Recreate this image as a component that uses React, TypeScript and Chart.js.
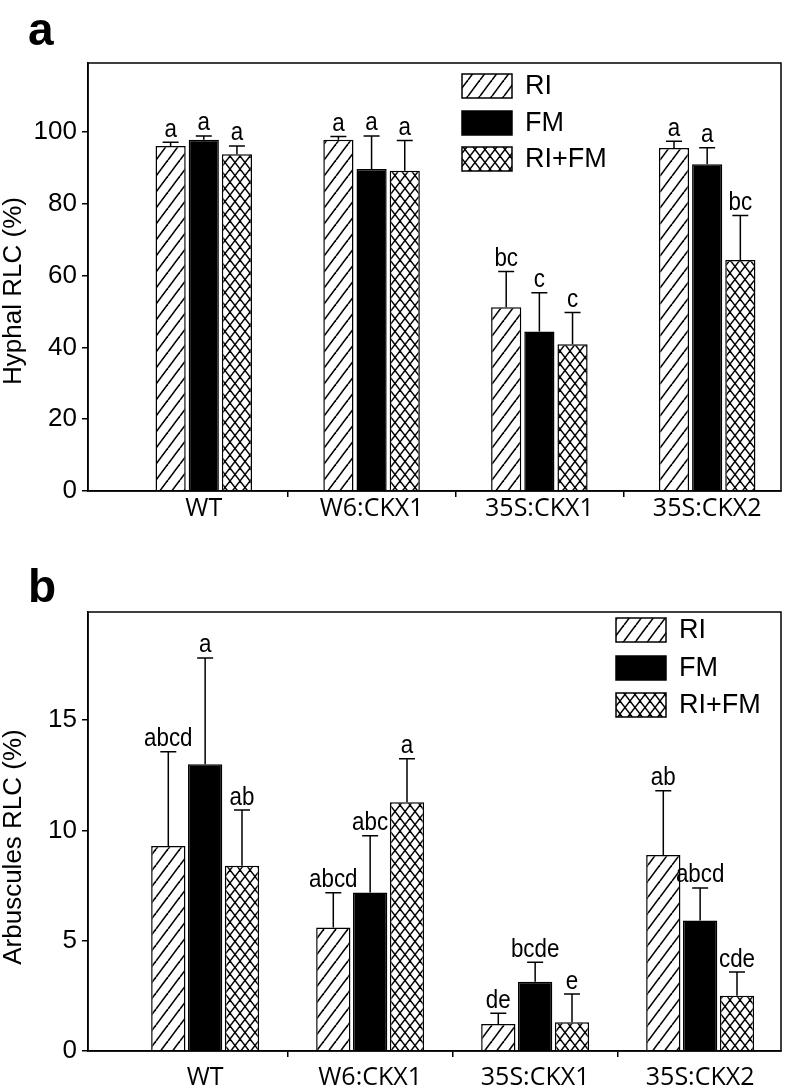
import React, { useEffect, useRef } from 'react';
import { Chart, registerables } from 'chart.js';

Chart.register(...registerables);

const categories = ['WT', 'W6:CKX1', '35S:CKX1', '35S:CKX2'];
const seriesNames = ['RI', 'FM', 'RI+FM'];

// Panel a: Hyphal RLC (%)
const hyphalRI = [96.1, 97.8, 51.2, 95.5];
const hyphalFM = [97.8, 89.7, 44.4, 91.0];
const hyphalRIFM = [93.8, 89.2, 40.9, 64.3];
const hyphalErrRI = [1.0, 0.9, 9.9, 1.9];
const hyphalErrFM = [1.1, 9.2, 10.8, 4.6];
const hyphalErrRIFM = [2.3, 8.4, 8.8, 12.4];
const hyphalLetRI = ['a', 'a', 'bc', 'a'];
const hyphalLetFM = ['a', 'a', 'c', 'a'];
const hyphalLetRIFM = ['a', 'a', 'c', 'bc'];

// Panel b: Arbuscules RLC (%)
const arbRI = [9.29, 5.6, 1.22, 8.88];
const arbFM = [13.0, 7.19, 3.14, 5.92];
const arbRIFM = [8.4, 11.28, 1.3, 2.51];
const arbErrRI = [4.27, 1.57, 0.49, 2.92];
const arbErrFM = [4.82, 2.57, 0.88, 1.47];
const arbErrRIFM = [2.52, 1.97, 1.28, 1.07];
const arbLetRI = ['abcd', 'abcd', 'de', 'ab'];
const arbLetFM = ['a', 'abc', 'bcde', 'abcd'];
const arbLetRIFM = ['ab', 'a', 'e', 'cde'];

const SANS = '"Liberation Sans", Arial, sans-serif';
const XFONT = '"Open Sans", "Liberation Sans", sans-serif';

function makeHatch(): CanvasPattern {
  const w = 12, h = 16;
  const c = document.createElement('canvas');
  c.width = w; c.height = h;
  const g = c.getContext('2d')!;
  g.fillStyle = '#fff'; g.fillRect(0, 0, w, h);
  g.strokeStyle = '#000'; g.lineWidth = 1.6;
  for (const dx of [-w, 0, w]) {
    g.beginPath(); g.moveTo(dx, h); g.lineTo(dx + w, 0); g.stroke();
  }
  return g.createPattern(c, 'repeat')!;
}

function makeCross(): CanvasPattern {
  const w = 10, h = 13;
  const c = document.createElement('canvas');
  c.width = w; c.height = h;
  const g = c.getContext('2d')!;
  g.fillStyle = '#fff'; g.fillRect(0, 0, w, h);
  g.strokeStyle = '#000'; g.lineWidth = 1.4;
  for (const dx of [-w, 0, w]) {
    for (const dy of [-h, 0, h]) {
      g.beginPath(); g.moveTo(dx, dy); g.lineTo(dx + w, dy + h); g.stroke();
      g.beginPath(); g.moveTo(dx + w, dy); g.lineTo(dx, dy + h); g.stroke();
    }
  }
  return g.createPattern(c, 'repeat')!;
}

type PanelCfg = {
  label: string;
  yTitle: string;
  values: number[][];
  errors: number[][];
  letters: string[][];
  yMax: number;
  yStep: number;
  xMin: number;
  xMax: number;
  padTop: number;
  xAxisHeight: number;
  xTickPadding: number;
  catPct: number;
  barPct: number;
  legendX: number;
  legendY: number[];
  labelY: number;
  titleY: number;
};

function Panel({ cfg, top, height }: { cfg: PanelCfg; top: number; height: number }) {
  const ref = useRef<HTMLCanvasElement>(null);
  useEffect(() => {
    const hatch = makeHatch();
    const cross = makeCross();
    const fills: any[] = [hatch, '#000', cross];

    const overlay = {
      id: 'overlay',
      afterDatasetsDraw(chart: any) {
        const ctx = chart.ctx;
        const yS = chart.scales.y;
        chart.data.datasets.forEach((_ds: any, di: number) => {
          const meta = chart.getDatasetMeta(di);
          meta.data.forEach((el: any, j: number) => {
            const v = cfg.values[di][j];
            const e = cfg.errors[di][j];
            const yTop = yS.getPixelForValue(v + e);
            ctx.save();
            ctx.strokeStyle = '#000';
            ctx.lineWidth = 1.5;
            ctx.beginPath();
            ctx.moveTo(el.x, el.y);
            ctx.lineTo(el.x, yTop);
            ctx.moveTo(el.x - 8, yTop);
            ctx.lineTo(el.x + 8, yTop);
            ctx.stroke();
            ctx.translate(el.x, yTop - 5.5);
            ctx.scale(0.86, 1);
            ctx.font = '26px ' + SANS;
            ctx.textAlign = 'center';
            ctx.textBaseline = 'alphabetic';
            ctx.fillStyle = '#000';
            ctx.fillText(cfg.letters[di][j], 0, 0);
            ctx.restore();
          });
        });
      },
      afterDraw(chart: any) {
        const ctx = chart.ctx;
        const a = chart.chartArea;
        ctx.save();
        // frame
        ctx.strokeStyle = '#000';
        ctx.lineWidth = 1.5;
        ctx.strokeRect(a.left, a.top, a.right - a.left, a.bottom - a.top);
        // legend
        seriesNames.forEach((name, i) => {
          const y = cfg.legendY[i];
          ctx.fillStyle = fills[i];
          ctx.fillRect(cfg.legendX, y, 50, 24);
          ctx.lineWidth = 1.5;
          ctx.strokeStyle = '#000';
          ctx.strokeRect(cfg.legendX, y, 50, 24);
          ctx.fillStyle = '#000';
          ctx.font = '27px ' + SANS;
          ctx.textAlign = 'left';
          ctx.textBaseline = 'middle';
          ctx.fillText(name, cfg.legendX + 63, y + 13);
        });
        // y title
        ctx.translate(14, cfg.titleY);
        ctx.rotate(-Math.PI / 2);
        ctx.font = '26px ' + SANS;
        ctx.textAlign = 'center';
        ctx.textBaseline = 'middle';
        ctx.fillText(cfg.yTitle, 0, 0);
        ctx.setTransform(1, 0, 0, 1, 0, 0);
        // panel label
        ctx.font = 'bold 46px ' + SANS;
        ctx.textAlign = 'left';
        ctx.textBaseline = 'alphabetic';
        ctx.fillText(cfg.label, 28, cfg.labelY);
        ctx.restore();
      },
    };

    const chart = new Chart(ref.current!, {
      type: 'bar',
      data: {
        datasets: seriesNames.map((name, i) => ({
          label: name,
          data: cfg.values[i].map((v, j) => ({ x: j, y: v })),
          backgroundColor: fills[i],
          borderColor: '#000',
          borderWidth: 1.5,
          categoryPercentage: cfg.catPct,
          barPercentage: cfg.barPct,
        })),
      },
      options: {
        responsive: false,
        animation: false,
        devicePixelRatio: 1,
        layout: { padding: { left: 0, top: cfg.padTop, right: 5, bottom: 0 } },
        plugins: { legend: { display: false }, tooltip: { enabled: false } },
        scales: {
          x: {
            type: 'linear',
            min: cfg.xMin,
            max: cfg.xMax,
            offset: false,
            afterBuildTicks: (scale: any) => {
              scale.ticks = categories.map((_c, i) => ({ value: i }));
            },
            afterFit: (scale: any) => {
              scale.height = cfg.xAxisHeight;
            },
            ticks: {
              autoSkip: false,
              maxRotation: 0,
              padding: cfg.xTickPadding,
              color: '#000',
              font: { family: XFONT, size: 25 },
              callback: (value: any) => categories[Math.round(Number(value))] ?? '',
            },
            grid: {
              offset: true,
              drawOnChartArea: false,
              drawTicks: true,
              tickLength: 6,
              lineWidth: 1.5,
              color: (ctx: any) => (ctx.index === 0 ? 'rgba(0,0,0,0)' : '#000'),
            },
            border: { display: true, color: '#000', width: 1.5 },
          },
          y: {
            min: 0,
            max: cfg.yMax,
            afterBuildTicks: (scale: any) => {
              scale.ticks = scale.ticks.filter(
                (t: any) => Math.abs(t.value / cfg.yStep - Math.round(t.value / cfg.yStep)) < 1e-6
              );
            },
            afterFit: (scale: any) => {
              scale.width = 88;
            },
            ticks: {
              stepSize: cfg.yStep,
              padding: 5,
              color: '#000',
              font: { family: SANS, size: 26 },
            },
            grid: {
              drawOnChartArea: false,
              drawTicks: true,
              tickLength: 6,
              lineWidth: 1.5,
              color: '#000',
            },
            border: { display: true, color: '#000', width: 1.5 },
          },
        },
      },
      plugins: [overlay],
    } as any);
    return () => chart.destroy();
  }, []);
  return (
    <canvas
      ref={ref}
      width={786}
      height={height}
      style={{ position: 'absolute', left: 0, top, width: 786, height }}
    />
  );
}

const panelA: PanelCfg = {
  label: 'a',
  yTitle: 'Hyphal RLC (%)',
  values: [hyphalRI, hyphalFM, hyphalRIFM],
  errors: [hyphalErrRI, hyphalErrFM, hyphalErrRIFM],
  letters: [hyphalLetRI, hyphalLetFM, hyphalLetRIFM],
  yMax: 119.2,
  yStep: 20,
  xMin: -0.69,
  xMax: 3.44,
  padTop: 63,
  xAxisHeight: 54,
  xTickPadding: -3,
  catPct: 0.593,
  barPct: 0.91,
  legendX: 462,
  legendY: [74, 111, 147],
  labelY: 45,
  titleY: 291,
};

const panelB: PanelCfg = {
  label: 'b',
  yTitle: 'Arbuscules RLC (%)',
  values: [arbRI, arbFM, arbRIFM],
  errors: [arbErrRI, arbErrFM, arbErrRIFM],
  letters: [arbLetRI, arbLetFM, arbLetRIFM],
  yMax: 19.9,
  yStep: 5,
  xMin: -0.71,
  xMax: 3.49,
  padTop: 67,
  xAxisHeight: 36,
  xTickPadding: 6,
  catPct: 0.67,
  barPct: 0.93,
  legendX: 616,
  legendY: [73, 111, 148],
  labelY: 57,
  titleY: 302,
};

export default function App() {
  return (
    <div style={{ position: 'absolute', left: 0, top: 0, width: 786, height: 1087, background: '#fff' }}>
      <Panel cfg={panelA} top={0} height={545} />
      <Panel cfg={panelB} top={545} height={542} />
    </div>
  );
}
